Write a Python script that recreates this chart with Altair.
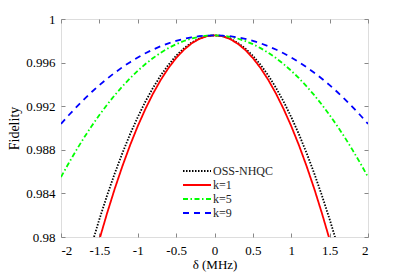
import altair as alt
import pandas as pd

# half-curves for |delta| = 0, 0.1, 0.2, ... (curves are symmetric)
blue_half = [0.9985, 0.99848, 0.99842, 0.99832, 0.99818, 0.99799, 0.99777, 0.99751, 0.99720, 0.99686,
             0.99647, 0.99604, 0.99558, 0.99507, 0.99452, 0.99393, 0.99330, 0.99263, 0.99192, 0.99117, 0.99038]
green_half = [0.9985, 0.99847, 0.99837, 0.99821, 0.99798, 0.99769, 0.99733, 0.99691, 0.99642, 0.99587,
              0.99525, 0.99457, 0.99382, 0.99301, 0.99213, 0.99119, 0.99018, 0.98911, 0.98797, 0.98677, 0.98550]
black_half = [0.9985, 0.99843, 0.9982, 0.99783, 0.9973, 0.99663, 0.9958, 0.99483, 0.9937, 0.99243,
              0.991, 0.98943, 0.9877, 0.98583, 0.9838, 0.98163, 0.9793, 0.97683]
red_half = [0.9985, 0.99842, 0.99817, 0.99775, 0.99717, 0.99642, 0.9955, 0.99442, 0.99317, 0.99175,
            0.99017, 0.98842, 0.9865, 0.98442, 0.98217, 0.97976, 0.97718]

series_names = ["OSS-NHQC", "k=1", "k=5", "k=9"]
series_half = [black_half, red_half, green_half, blue_half]
colors = ["#000000", "#ff0000", "#00ff00", "#0000ff"]
dashes = [[1.5, 1.5], [1, 0], [5, 2.5, 1.5, 2.5], [6, 5]]

x_ticks = [-2, -1.5, -1, -0.5, 0, 0.5, 1, 1.5, 2]
y_ticks = [0.98, 0.984, 0.988, 0.992, 0.996, 1.0]

rows = []
for name, half in zip(series_names, series_half):
    n = len(half)
    xs = [round(-0.1 * (n - 1) + 0.1 * i, 1) for i in range(2 * n - 1)]
    ys = half[::-1] + half[1:]
    for x, y in zip(xs, ys):
        rows.append({"delta": x, "fidelity": y, "series": name})
df = pd.DataFrame(rows)

FONT = "Liberation Serif, Times New Roman, serif"
TXT = "#262626"

xscale = alt.Scale(domain=[-2, 2], nice=False, zero=False)
yscale = alt.Scale(domain=[0.98, 1.0], nice=False, zero=False)

legend_kw = dict(title=None, orient="none", legendX=128, legendY=144, padding=0,
                 symbolType="M-2,0H2", symbolSize=196, symbolStrokeWidth=1.8,
                 labelFont=FONT, labelFontSize=12, labelOffset=8, rowPadding=0,
                 labelColor=TXT)

lines = alt.Chart(df).mark_line(clip=True, strokeWidth=1.8).encode(
    x=alt.X("delta:Q", scale=xscale,
            axis=alt.Axis(values=x_ticks, labelExpr="datum.value + ''", title="δ (MHz)",
                          offset=-4, tickSize=4, domain=False, grid=False, labelPadding=7,
                          titlePadding=1, labelFontSize=13, titleFontSize=13, titleFontWeight="normal",
                          labelFont=FONT, titleFont=FONT)),
    y=alt.Y("fidelity:Q", scale=yscale,
            axis=alt.Axis(values=y_ticks, format="~g", title="Fidelity",
                          offset=-4, tickSize=4, domain=False, grid=False, labelPadding=6,
                          titlePadding=4, labelFontSize=13, titleFontSize=14, titleFontWeight="normal",
                          labelFont=FONT, titleFont=FONT)),
    color=alt.Color("series:N", scale=alt.Scale(domain=series_names, range=colors),
                    legend=alt.Legend(**legend_kw)),
    strokeDash=alt.StrokeDash("series:N", scale=alt.Scale(domain=series_names, range=dashes),
                              legend=alt.Legend(**legend_kw)),
    order=alt.Order("series:N"),
)

frame_axes = alt.Chart(df).mark_line(opacity=0).encode(
    x=alt.X("delta:Q", scale=xscale,
            axis=alt.Axis(orient="top", values=x_ticks, labels=False, title=None,
                          offset=-4, tickSize=4, domain=False, grid=False)),
    y=alt.Y("fidelity:Q", scale=yscale,
            axis=alt.Axis(orient="right", values=y_ticks, labels=False, title=None,
                          offset=-4, tickSize=4, domain=False, grid=False)),
    detail="series:N",
)

chart = alt.layer(lines, frame_axes).resolve_axis(x="independent", y="independent").properties(
    width=307, height=218,
    autosize=alt.AutoSizeParams(type="none"),
    padding={"left": 53, "top": 11, "right": 33, "bottom": 36},
).configure_view(stroke=TXT, strokeWidth=1).configure_axis(
    labelFont=FONT, titleFont=FONT, labelColor=TXT, titleColor=TXT, tickColor=TXT, tickWidth=1
).configure(background="white", font=FONT)

chart.save("out.html", embed_options={"renderer": "svg", "actions": False})
